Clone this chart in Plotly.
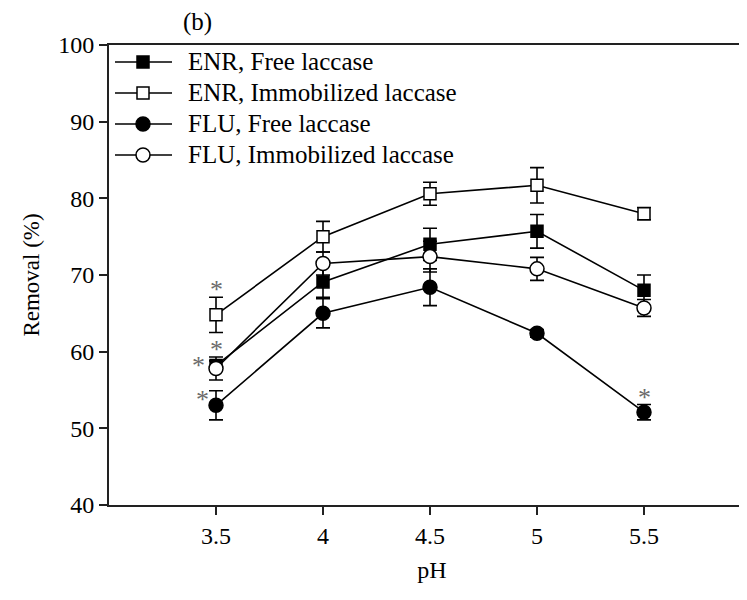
import plotly.graph_objects as go

ph = [3.5, 4, 4.5, 5, 5.5]

enr_free = [58.2, 69.1, 74.0, 75.7, 68.0]
enr_free_err = [0.6, 2.0, 2.1, 2.2, 2.0]

enr_imm = [64.8, 75.0, 80.6, 81.7, 78.0]
enr_imm_err = [2.3, 2.0, 1.5, 2.3, 0.8]

flu_free = [53.0, 65.0, 68.4, 62.4, 52.1]
flu_free_err = [1.9, 1.9, 2.4, 0.5, 1.0]

flu_imm = [57.8, 71.5, 72.4, 70.8, 65.7]
flu_imm_err = [1.5, 1.5, 2.0, 1.5, 1.1]

series_names = ["ENR, Free laccase", "ENR, Immobilized laccase",
                "FLU, Free laccase", "FLU, Immobilized laccase"]

# significance asterisks: (series index, point index, placement)
stars = [(1, 0, "above"), (3, 0, "above"), (0, 0, "left"),
         (2, 0, "upper-left"), (2, 4, "above")]

FONT = "Liberation Serif, Times New Roman, serif"
values = [enr_free, enr_imm, flu_free, flu_imm]
errors = [enr_free_err, enr_imm_err, flu_free_err, flu_imm_err]
symbols = ["square", "square", "circle", "circle"]
fills = ["black", "white", "black", "white"]
sizes = [12, 12, 14, 14]

# page offset of the figure (browser body margin) and plot box in window pixels
OFF = 8
W, H = 747, 600
BOX_L, BOX_R, BOX_T, BOX_B = 109, 755, 45, 505
ML, MT = BOX_L - OFF, BOX_T - OFF
MR = 0
MB = H - (BOX_B - OFF)
PW, PH = BOX_R - BOX_L, BOX_B - BOX_T


def px2paper(px, py):
    return (px - BOX_L) / PW, (BOX_B - py) / PH


fig = go.Figure()
for name, v, e, sym, fc, sz in zip(series_names, values, errors, symbols, fills, sizes):
    fig.add_trace(go.Scatter(
        x=ph, y=v, name=name, mode="lines+markers", showlegend=False,
        line=dict(color="black", width=1.6),
        marker=dict(symbol=sym, size=sz, color=fc,
                    line=dict(color="black", width=1.5)),
        error_y=dict(type="data", array=e, visible=True,
                     color="black", thickness=1.6, width=7),
    ))

annotations = []

# legend drawn on an overlay axis spanning the plot area (0..1)
leg_rows_px = [62, 93, 124, 155]
for name, sym, fc, sz, ry in zip(series_names, symbols, fills, sizes, leg_rows_px):
    x0, yy = px2paper(115, ry)
    x1, _ = px2paper(172, ry)
    xm, _ = px2paper(143, ry)
    xt, _ = px2paper(186, ry)
    fig.add_trace(go.Scatter(
        x=[x0, x1], y=[yy, yy], xaxis="x2", yaxis="y2", mode="lines",
        line=dict(color="black", width=1.6), showlegend=False, hoverinfo="skip"))
    fig.add_trace(go.Scatter(
        x=[xm], y=[yy], xaxis="x2", yaxis="y2", mode="markers",
        marker=dict(symbol=sym, size=sz, color=fc, line=dict(color="black", width=1.5)),
        showlegend=False, hoverinfo="skip"))
    annotations.append(dict(
        x=xt, y=yy, xref="x2", yref="y2", text=name, showarrow=False,
        xanchor="left", yanchor="middle", yshift=1,
        font=dict(family=FONT, size=25, color="black")))

star_font = dict(family=FONT, size=26, color="#6b6b6b")
for si, pi, place in stars:
    y = values[si][pi]
    if place == "above":
        annotations.append(dict(
            x=ph[pi], y=y + errors[si][pi], xref="x", yref="y",
            text="*", showarrow=False, yanchor="bottom", yshift=-9,
            font=star_font))
    elif place == "left":
        annotations.append(dict(
            x=ph[pi], y=y, xref="x", yref="y",
            text="*", showarrow=False, xanchor="right", xshift=-9, yshift=0,
            font=star_font))
    else:
        annotations.append(dict(
            x=ph[pi], y=y, xref="x", yref="y",
            text="*", showarrow=False, xanchor="right", xshift=-5, yshift=6,
            font=star_font))

annotations.append(dict(
    x=px2paper(197, 0)[0], y=1.0, xref="paper", yref="paper", text="(b)",
    showarrow=False, xanchor="center", yanchor="middle", yshift=23,
    font=dict(family=FONT, size=25, color="black")))

x_max = 3 + 0.5 * PW / 107.0

fig.update_layout(
    width=W, height=H,
    margin=dict(l=ML, r=MR, t=MT, b=MB),
    paper_bgcolor="white", plot_bgcolor="white",
    font=dict(family=FONT, size=24, color="black"),
    showlegend=False,
    annotations=annotations,
    xaxis=dict(range=[3, x_max], tickvals=ph, ticktext=["3.5", "4", "4.5", "5", "5.5"],
               showline=True, linecolor="#222", linewidth=2, mirror=True,
               ticks="outside", ticklen=8, tickwidth=1.5, tickcolor="#222",
               tickfont=dict(family=FONT, size=24),
               showgrid=False, zeroline=False, automargin=False,
               title=dict(text="pH", font=dict(family=FONT, size=24), standoff=13)),
    yaxis=dict(range=[40, 100], dtick=10,
               showline=True, linecolor="#222", linewidth=2,
               ticks="outside", ticklen=8, tickwidth=1.5, tickcolor="#222",
               tickfont=dict(family=FONT, size=24),
               showgrid=False, zeroline=False, automargin=False,
               title=dict(text="Removal (%)", font=dict(family=FONT, size=23), standoff=12)),
    xaxis2=dict(range=[0, 1], overlaying="x", visible=False, fixedrange=True),
    yaxis2=dict(range=[0, 1], overlaying="y", visible=False, fixedrange=True),
)

fig.write_html("out.html")
